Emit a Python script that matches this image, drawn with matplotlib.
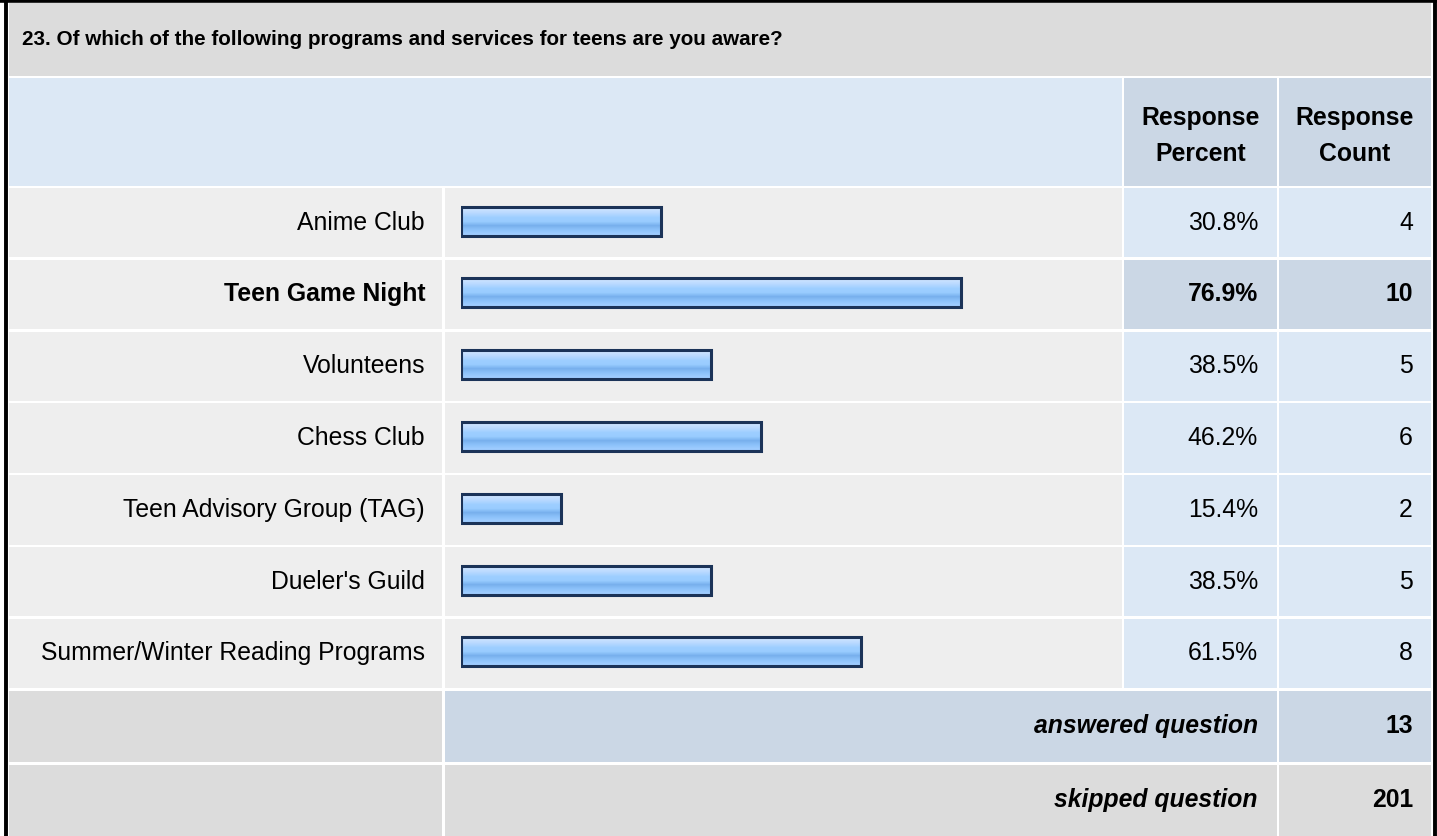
import matplotlib
matplotlib.use("Agg")
import matplotlib.pyplot as plt
from matplotlib.patches import Rectangle
import numpy as np

plt.rcParams['font.family'] = ['Liberation Sans', 'DejaVu Sans']

# data
title = "23. Of which of the following programs and services for teens are you aware?"
labels = ["Anime Club", "Teen Game Night", "Volunteens", "Chess Club",
          "Teen Advisory Group (TAG)", "Dueler's Guild",
          "Summer/Winter Reading Programs"]
percents = [30.8, 76.9, 38.5, 46.2, 15.4, 38.5, 61.5]
counts = [4, 10, 5, 6, 2, 5, 8]
highlight = 1  # row shown in bold
answered = 13
skipped = 201

# colours
GREY_TITLE = "#dcdcdc"
LIGHT_BLUE = "#dce8f5"
MID_BLUE = "#cbd7e5"
ROW_GREY = "#eeeeee"
EDGE = "#1b3358"

W, H = 1437, 836
fig = plt.figure(figsize=(W / 100, H / 100), dpi=100)
ax = fig.add_axes([0, 0, 1, 1])
ax.set_xlim(0, W)
ax.set_ylim(H, 0)
ax.axis('off')


def cell(x0, x1, y0, y1, color):
    ax.add_patch(Rectangle((x0, y0), x1 - x0, y1 - y0, facecolor=color,
                           edgecolor='none', zorder=1))


# column edges (pixels)
c_lab = (9, 442)
c_bar = (445, 1122)
c_pct = (1124, 1277)
c_cnt = (1279, 1431)
fs = 17.8

# title row
cell(9, 1431, 3, 76, GREY_TITLE)
ax.text(22, 39.5, title, fontsize=fs * 0.835, fontweight='bold', va='center',
        ha='left', color='black', zorder=3)

# header row
cell(9, 1122, 78, 186, LIGHT_BLUE)
cell(*c_pct, 78, 186, MID_BLUE)
cell(*c_cnt, 78, 186, MID_BLUE)
ax.text((c_pct[0] + c_pct[1]) / 2, 136, "Response\nPercent", fontsize=fs,
        fontweight='bold', ha='center', va='center', linespacing=1.65, zorder=3)
ax.text((c_cnt[0] + c_cnt[1]) / 2, 136, "Response\nCount", fontsize=fs,
        fontweight='bold', ha='center', va='center', linespacing=1.65, zorder=3)

# data rows
row_top = 188
row_h = 71.8
for i, (lab, p, c) in enumerate(zip(labels, percents, counts)):
    y0 = row_top + i * row_h
    y1 = y0 + row_h - 2.5
    yc = (y0 + y1) / 2
    bold = 'bold' if i == highlight else 'normal'
    val_bg = MID_BLUE if i == highlight else LIGHT_BLUE
    cell(*c_lab, y0, y1, ROW_GREY)
    cell(*c_bar, y0, y1, ROW_GREY)
    cell(*c_pct, y0, y1, val_bg)
    cell(*c_cnt, y0, y1, val_bg)
    ax.text(425, yc, lab, fontsize=fs, fontweight=bold, ha='right',
            va='center', zorder=3)
    ax.text(1258, yc, f"{p:.1f}%", fontsize=fs, fontweight=bold, ha='right',
            va='center', zorder=3)
    ax.text(1413, yc, str(c), fontsize=fs, fontweight=bold, ha='right',
            va='center', zorder=3)

# summary rows
y0 = row_top + len(labels) * row_h
cell(*c_lab, y0, 762, GREY_TITLE)
cell(c_bar[0], c_pct[1], y0, 762, MID_BLUE)
cell(*c_cnt, y0, 762, MID_BLUE)
ax.text(1258, (y0 + 762) / 2, "answered question", fontsize=fs,
        fontweight='bold', style='italic', ha='right', va='center', zorder=3)
ax.text(1413, (y0 + 762) / 2, str(answered), fontsize=fs, fontweight='bold',
        ha='right', va='center', zorder=3)
cell(*c_lab, 764.5, 840, GREY_TITLE)
cell(c_bar[0], c_pct[1], 764.5, 840, GREY_TITLE)
cell(*c_cnt, 764.5, 840, GREY_TITLE)
ax.text(1258, 800, "skipped question", fontsize=fs, fontweight='bold',
        style='italic', ha='right', va='center', zorder=3)
ax.text(1413, 800, str(skipped), fontsize=fs, fontweight='bold',
        ha='right', va='center', zorder=3)

# outer border
ax.plot([5.5, 5.5], [0, H], color='black', lw=2.8, zorder=5, solid_capstyle='butt')
ax.plot([0, W], [1.2, 1.2], color='black', lw=2.6, zorder=5, solid_capstyle='butt')
ax.plot([1434.5, 1434.5], [0, H], color='black', lw=2.8, zorder=5, solid_capstyle='butt')

# bar axes: 0..100 % spans 650 px starting at x=461
bx0, bx1 = 461, 1111
bax = fig.add_axes([bx0 / W, 1 - (row_top + 7 * row_h) / H,
                    (bx1 - bx0) / W, 7 * row_h / H])
bax.axis('off')
bax.patch.set_alpha(0)
ypos = np.arange(len(labels)) - 0.04
bars = bax.barh(ypos, percents, height=29 / row_h, facecolor='none',
                edgecolor=EDGE, linewidth=2.2, zorder=3)
grad = np.array([[0.80, 0.89, 1.0], [0.72, 0.85, 1.0], [0.62, 0.81, 1.0],
                 [0.60, 0.80, 1.0], [0.47, 0.69, 0.93], [0.55, 0.76, 0.98],
                 [0.62, 0.80, 1.0]])[:, None, :]
for b in bars:
    x, y = b.get_x(), b.get_y()
    w, h = b.get_width(), b.get_height()
    im = bax.imshow(grad, extent=(x, x + w, y + h, y), aspect='auto',
                    interpolation='bilinear', zorder=2)
    im.set_clip_path(b)
bax.set_xlim(0, 100)
bax.set_ylim(len(labels) - 0.5, -0.5)

fig.savefig("out.png", dpi=100, facecolor='white')
